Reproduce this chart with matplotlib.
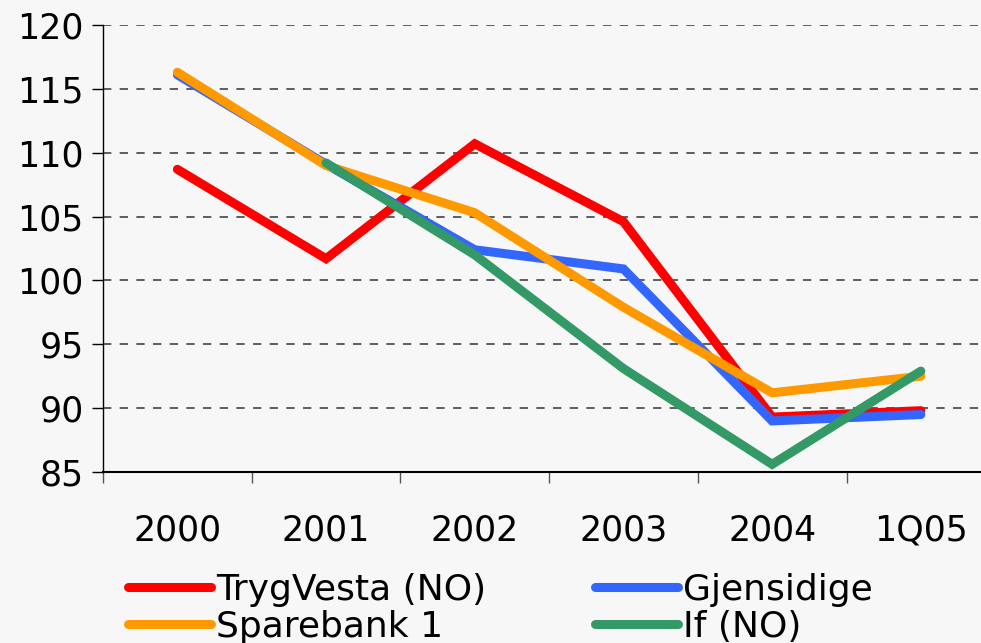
import matplotlib.pyplot as plt
from matplotlib.lines import Line2D

categories = ['2000', '2001', '2002', '2003', '2004', '1Q05']
trygvesta = [108.7, 101.7, 110.7, 104.6, 89.3, 89.8]
gjensidige = [116.1, 109.1, 102.4, 100.9, 89.0, 89.5]
sparebank = [116.3, 109.0, 105.3, 97.9, 91.2, 92.5]
if_no = [None, 109.2, 102.0, 93.1, 85.6, 92.9]

series = [
    ('TrygVesta (NO)', trygvesta, '#ff0000'),
    ('Gjensidige', gjensidige, '#3366ff'),
    ('Sparebank 1', sparebank, '#ff9900'),
    ('If (NO)', if_no, '#339966'),
]

plt.rcParams['font.family'] = ['DejaVu Sans']
bg = '#f7f7f7'

fig = plt.figure(figsize=(9.81, 6.43), dpi=100, facecolor=bg)
ax = fig.add_axes([103 / 981, 1 - 472 / 643, 1 - 103 / 981, (472 - 25) / 643])
ax.set_facecolor(bg)

x = list(range(len(categories)))
handles = {}
for name, vals, col in series:
    xs = [i for i, v in zip(x, vals) if v is not None]
    ys = [v for v in vals if v is not None]
    ln, = ax.plot(xs, ys, color=col, lw=6.5, solid_capstyle='round',
                  solid_joinstyle='miter', label=name, zorder=3)
    handles[name] = ln

ax.set_yticks(range(85, 121, 5))
ax.tick_params(axis='y', labelsize=25, length=8, width=1, direction='out', pad=6)
ax.set_xticks(x)
ax.set_xticklabels(categories)
ax.tick_params(axis='x', which='major', length=0, labelsize=25, pad=30)
ax.set_xticks([i - 0.5 for i in range(len(categories) + 1)], minor=True)
ax.tick_params(axis='x', which='minor', length=8, width=1, color='#555555')
# limits after ticks so set_xticks doesn't widen them
ax.set_ylim(85, 120)
ax.set_xlim(-0.5, -0.5 + (981 - 103) / 148.7)

for yv in range(90, 121, 5):
    ax.axhline(yv, color='#444444', lw=1.2, ls=(0, (5, 5)), zorder=1)

for s in ['top', 'right']:
    ax.spines[s].set_visible(False)
ax.spines['left'].set_linewidth(1)
ax.spines['bottom'].set_linewidth(1.5)

order = ['TrygVesta (NO)', 'Sparebank 1', 'Gjensidige', 'If (NO)']
leg_handles = [Line2D([], [], color=handles[n].get_color(), lw=6.5,
                      solid_capstyle='round') for n in order]
fig.legend(leg_handles, order, ncol=2, loc='upper left',
           bbox_to_anchor=(128 / 981, 1 - 573 / 643), frameon=False,
           fontsize=26, handlelength=2.3, handletextpad=0.15,
           labelspacing=0.08, columnspacing=3.0, borderpad=0, borderaxespad=0)

fig.savefig('out.png', dpi=100, facecolor=bg)
